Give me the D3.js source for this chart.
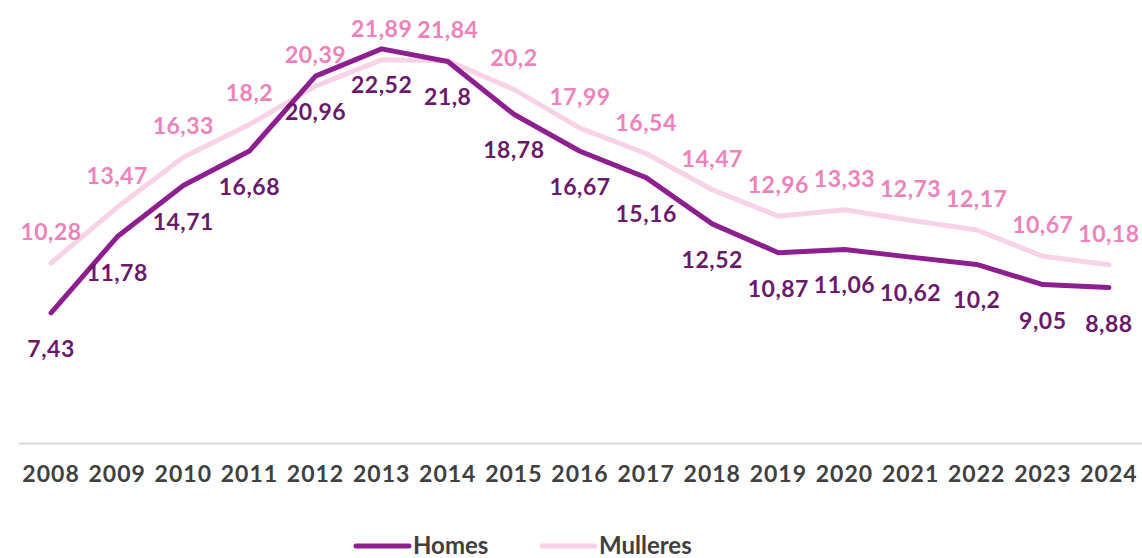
<!DOCTYPE html>
<html>
<head>
<meta charset="utf-8">
<script src="https://cdn.jsdelivr.net/npm/d3@7"></script>
<style>
  body { margin: 0; background: #fff; }
  text { font-family: Lato, "Open Sans", sans-serif; font-weight: 700; }
</style>
</head>
<body>
<div id="chart"></div>
<script>
(function() {
  var width = 1142, height = 558;

  var years = ["2008","2009","2010","2011","2012","2013","2014","2015","2016","2017","2018","2019","2020","2021","2022","2023","2024"];
  var homes = [7.43, 11.78, 14.71, 16.68, 20.96, 22.52, 21.8, 18.78, 16.67, 15.16, 12.52, 10.87, 11.06, 10.62, 10.2, 9.05, 8.88];
  var mulleres = [10.28, 13.47, 16.33, 18.2, 20.39, 21.89, 21.84, 20.2, 17.99, 16.54, 14.47, 12.96, 13.33, 12.73, 12.17, 10.67, 10.18];
  var seriesNames = ["Homes", "Mulleres"];

  var svg = d3.select("#chart")
    .append("svg")
    .attr("width", width)
    .attr("height", height);

  var xBand = d3.scaleBand().domain(years).range([18, 1142]);
  var xPositionScale = function(y) { return xBand(y) + xBand.bandwidth() / 2; };
  var yPositionScale = d3.scaleLinear().domain([0, 25.31]).range([443, 0]);

  var fmt = function(v) { return String(v).replace(".", ","); };

  // axis
  var xAxis = d3.axisBottom(xBand).tickSize(0).tickPadding(23);
  var gx = svg.append("g")
    .attr("class", "axis x-axis")
    .attr("transform", "translate(0,443)")
    .call(xAxis);
  gx.select(".domain").attr("stroke", "#d9d9d9").attr("stroke-width", 2);
  gx.selectAll("text")
    .attr("fill", "#404040")
    .style("font-size", "23px")
    .style("letter-spacing", "1px");

  var line = d3.line()
    .x(function(d, i) { return xPositionScale(years[i]); })
    .y(function(d) { return yPositionScale(d); });

  svg.append("path")
    .datum(mulleres)
    .attr("d", line)
    .attr("fill", "none")
    .attr("stroke", "#f8d3e8")
    .attr("stroke-width", 5)
    .attr("stroke-linecap", "round")
    .attr("stroke-linejoin", "round");

  svg.append("path")
    .datum(homes)
    .attr("d", line)
    .attr("fill", "none")
    .attr("stroke", "#8e1f8f")
    .attr("stroke-width", 5)
    .attr("stroke-linecap", "round")
    .attr("stroke-linejoin", "round");

  // data labels
  svg.selectAll(".lbl-m")
    .data(mulleres)
    .enter().append("text")
    .attr("class", "lbl-m")
    .attr("x", function(d, i) { return xPositionScale(years[i]); })
    .attr("y", function(d) { return yPositionScale(d) - 23; })
    .attr("text-anchor", "middle")
    .attr("fill", "#ee82ba")
    .style("font-size", "23px")
    .style("letter-spacing", "0.5px")
    .text(fmt);

  svg.selectAll(".lbl-h")
    .data(homes)
    .enter().append("text")
    .attr("class", "lbl-h")
    .attr("x", function(d, i) { return xPositionScale(years[i]); })
    .attr("y", function(d) { return yPositionScale(d) + 44; })
    .attr("text-anchor", "middle")
    .attr("fill", "#6b1a6b")
    .style("font-size", "23px")
    .style("letter-spacing", "0.5px")
    .text(fmt);

  // legend
  var legendColors = ["#8e1f8f", "#f8d3e8"];
  var legendX = [356, 542];
  var legend = svg.selectAll(".legend")
    .data(seriesNames)
    .enter().append("g")
    .attr("class", "legend")
    .attr("transform", function(d, i) { return "translate(" + legendX[i] + ",546)"; });

  legend.append("line")
    .attr("x1", 0).attr("x2", 53)
    .attr("y1", 0).attr("y2", 0)
    .attr("stroke", function(d, i) { return legendColors[i]; })
    .attr("stroke-width", 5)
    .attr("stroke-linecap", "round");

  legend.append("text")
    .attr("x", 57)
    .attr("y", 8)
    .attr("fill", "#404040")
    .style("font-size", "24px")
    .text(function(d) { return d; });
})();
</script>
</body>
</html>
